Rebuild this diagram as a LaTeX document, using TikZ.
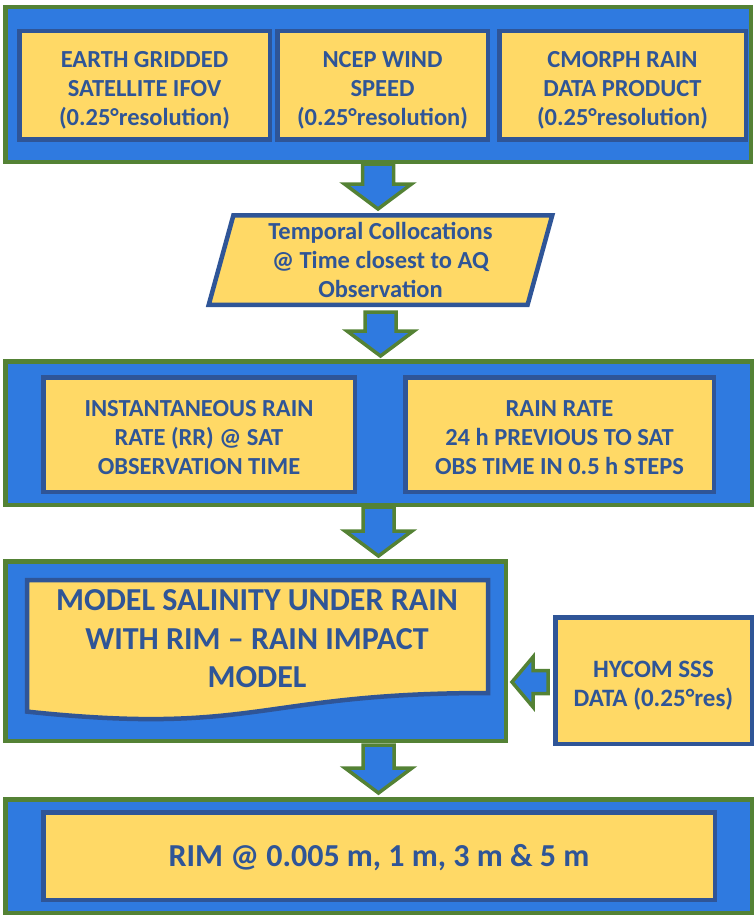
\documentclass[tikz,border=0pt]{standalone}
\usepackage{fontspec}
\setmainfont{Carlito}
\usetikzlibrary{shapes.geometric,calc}
\definecolor{leafgreen}{RGB}{84,130,53}
\definecolor{skyblue}{RGB}{47,122,224}
\definecolor{navyedge}{RGB}{47,85,151}
\definecolor{sandyellow}{RGB}{255,217,102}
\newcommand{\flowdown}[2]{\draw[flowarrow,shift={#1}] (-15.5,0)--(15.5,0)--(15.5,#2-25)--(33.5,#2-25)--(0,#2)--(-33.5,#2-25)--(-15.5,#2-25)--cycle;}
\begin{document}
\begin{tikzpicture}[x=1pt,y=-1pt,
container/.style={draw=leafgreen,fill=skyblue,line width=4.5pt,inner sep=0pt},
databox/.style={draw=navyedge,fill=sandyellow,line width=4.5pt,text=navyedge,align=center,inner sep=0pt,font=\bfseries\fontsize{24.5}{29}\selectfont},
linedrop/.style={text height=#1,text depth=6pt},
flowarrow/.style={draw=leafgreen,fill=skyblue,line width=3.5pt,line join=miter}]
\useasboundingbox (0,0) rectangle (754,915);
\node[container,minimum width=745.5pt,minimum height=154.5pt] (inputs) at (378,84.5) {};
\node[databox,linedrop=85.7pt,minimum width=250.5pt,minimum height=108.5pt] (ifov) at (144.5,85.5) {EARTH GRIDDED\\SATELLITE IFOV\\(0.25°resolution)};
\node[databox,linedrop=85.7pt,minimum width=210.5pt,minimum height=108.5pt] (ncep) at (382.5,85.5) {NCEP WIND\\SPEED\\(0.25°resolution)};
\node[databox,linedrop=85.7pt,minimum width=246.5pt,minimum height=108.5pt] (cmorph) at (622.5,85.5) {CMORPH RAIN\\DATA PRODUCT\\(0.25°resolution)};
\node[databox,trapezium,trapezium left angle=76,trapezium right angle=104,trapezium stretches=true,minimum width=344pt,minimum height=89.5pt] (colloc) at (380.5,260) {Temporal Collocations\\@ Time closest to AQ\\Observation};
\node[container,minimum width=746.5pt,minimum height=143.5pt] (rates) at (378.5,433) {};
\node[databox,linedrop=85.7pt,minimum width=311.5pt,minimum height=114.5pt] (instant) at (199,434.5) {INSTANTANEOUS RAIN\\RATE (RR) @ SAT\\OBSERVATION TIME};
\node[databox,linedrop=85.7pt,minimum width=308.5pt,minimum height=114.5pt] (previous) at (559.5,434.5) {RAIN RATE\\24 h PREVIOUS TO SAT\\OBS TIME IN 0.5 h STEPS};
\node[container,minimum width=500.5pt,minimum height=179.5pt] (model) at (255.5,651) {};
\draw[navyedge,fill=sandyellow,line width=4.5pt] (27,580)--(488,580)--(488,693) .. controls (257.5,693) and (257.5,736) .. (27,711.6)--cycle;
\node[text=navyedge,align=center,font=\bfseries\fontsize{32}{38.5}\selectfont] (rim) at (257,639) {MODEL SALINITY UNDER RAIN\\WITH RIM -- RAIN IMPACT\\MODEL};
\node[databox,linedrop=57.4pt,font=\bfseries\fontsize{25}{29}\selectfont,minimum width=196.5pt,minimum height=126.5pt] (hycom) at (653.5,680.5) {HYCOM SSS\\DATA (0.25°res)};
\node[container,minimum width=746.5pt,minimum height=113.5pt] (depths) at (378.5,856) {};
\node[databox,linedrop=27pt,minimum width=671.5pt,minimum height=87.5pt,font=\bfseries\fontsize{32}{36}\selectfont] (output) at (379,856) {RIM @ 0.005 m, 1 m, 3 m \& 5 m};
\flowdown{(inputs.south)}{45}
\flowdown{($(colloc.south)+(0,5)$)}{44}
\flowdown{(rates.south)}{49}
\flowdown{($(model.south -| depths.north)+(0,2)$)}{48}
\draw[flowarrow,shift={($(hycom.west)+(-5,1.5)$)}] (0,-11.5)--(-15,-11.5)--(-15,-25)--(-36,0)--(-15,25)--(-15,11.5)--(0,11.5)--cycle;
\end{tikzpicture}
\end{document}
